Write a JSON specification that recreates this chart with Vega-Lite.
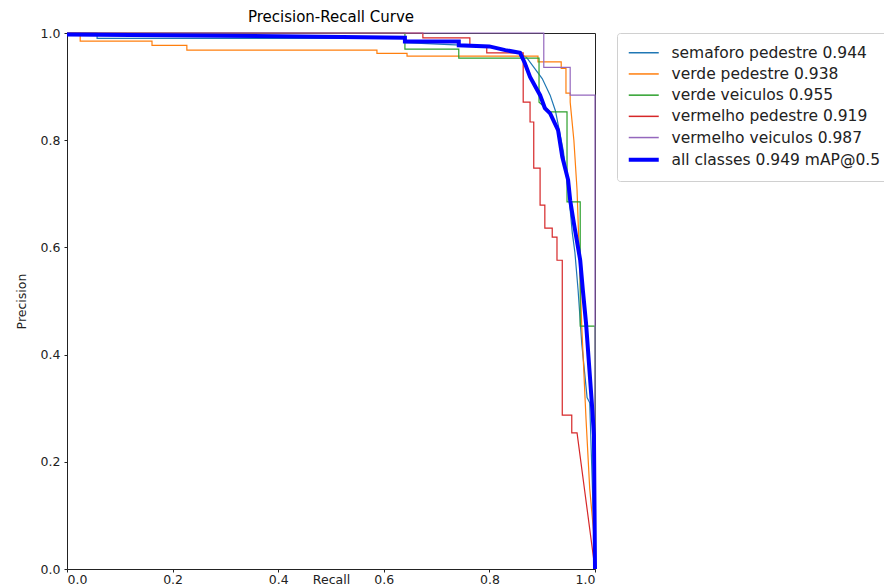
{
  "$schema": "https://vega.github.io/schema/vega-lite/v6.json",
  "autosize": {"type": "none"},
  "padding": {"left": 67, "top": 33, "right": 289, "bottom": 18},
  "width": 528,
  "height": 536,
  "background": "white",
  "title": {"text": "Precision-Recall Curve", "fontSize": 15, "font": "DejaVu Sans", "fontWeight": "normal", "color": "black", "offset": 2},
  "config": {
    "view": {"stroke": "#222", "strokeWidth": 1},
    "font": "DejaVu Sans",
    "axis": {"grid": false, "domain": false, "tickColor": "#222", "tickSize": 3, "labelFontSize": 12.5, "titleFontSize": 12.5, "labelColor": "#222", "titleColor": "#222", "titleFontWeight": "normal", "labelFont": "DejaVu Sans", "titleFont": "DejaVu Sans"}
  },
  "data": {"values": [
    {"c":"semaforo pedestre 0.944","i":0,"r":0,"p":1},
    {"c":"semaforo pedestre 0.944","i":1,"r":0.057,"p":1},
    {"c":"semaforo pedestre 0.944","i":2,"r":0.057,"p":0.99},
    {"c":"semaforo pedestre 0.944","i":3,"r":0.64,"p":0.99},
    {"c":"semaforo pedestre 0.944","i":4,"r":0.64,"p":0.982},
    {"c":"semaforo pedestre 0.944","i":5,"r":0.80,"p":0.975},
    {"c":"semaforo pedestre 0.944","i":6,"r":0.85,"p":0.965},
    {"c":"semaforo pedestre 0.944","i":7,"r":0.87,"p":0.955},
    {"c":"semaforo pedestre 0.944","i":8,"r":0.885,"p":0.935},
    {"c":"semaforo pedestre 0.944","i":9,"r":0.90,"p":0.915},
    {"c":"semaforo pedestre 0.944","i":10,"r":0.915,"p":0.884},
    {"c":"semaforo pedestre 0.944","i":11,"r":0.925,"p":0.855},
    {"c":"semaforo pedestre 0.944","i":12,"r":0.94,"p":0.78},
    {"c":"semaforo pedestre 0.944","i":13,"r":0.95,"p":0.70},
    {"c":"semaforo pedestre 0.944","i":14,"r":0.953,"p":0.67},
    {"c":"semaforo pedestre 0.944","i":15,"r":0.957,"p":0.627},
    {"c":"semaforo pedestre 0.944","i":16,"r":0.962,"p":0.59},
    {"c":"semaforo pedestre 0.944","i":17,"r":0.968,"p":0.52},
    {"c":"semaforo pedestre 0.944","i":18,"r":0.975,"p":0.42},
    {"c":"semaforo pedestre 0.944","i":19,"r":0.985,"p":0.32},
    {"c":"semaforo pedestre 0.944","i":20,"r":0.99,"p":0.31},
    {"c":"semaforo pedestre 0.944","i":21,"r":1.0,"p":0.0},

    {"c":"verde pedestre 0.938","i":0,"r":0,"p":1},
    {"c":"verde pedestre 0.938","i":1,"r":0.025,"p":1},
    {"c":"verde pedestre 0.938","i":2,"r":0.025,"p":0.985},
    {"c":"verde pedestre 0.938","i":3,"r":0.161,"p":0.985},
    {"c":"verde pedestre 0.938","i":4,"r":0.161,"p":0.977},
    {"c":"verde pedestre 0.938","i":5,"r":0.227,"p":0.977},
    {"c":"verde pedestre 0.938","i":6,"r":0.227,"p":0.968},
    {"c":"verde pedestre 0.938","i":7,"r":0.587,"p":0.968},
    {"c":"verde pedestre 0.938","i":8,"r":0.587,"p":0.962},
    {"c":"verde pedestre 0.938","i":9,"r":0.644,"p":0.962},
    {"c":"verde pedestre 0.938","i":10,"r":0.644,"p":0.957},
    {"c":"verde pedestre 0.938","i":11,"r":0.892,"p":0.957},
    {"c":"verde pedestre 0.938","i":12,"r":0.892,"p":0.946},
    {"c":"verde pedestre 0.938","i":13,"r":0.936,"p":0.946},
    {"c":"verde pedestre 0.938","i":14,"r":0.936,"p":0.934},
    {"c":"verde pedestre 0.938","i":15,"r":0.945,"p":0.934},
    {"c":"verde pedestre 0.938","i":16,"r":0.945,"p":0.888},
    {"c":"verde pedestre 0.938","i":17,"r":0.953,"p":0.888},
    {"c":"verde pedestre 0.938","i":18,"r":0.953,"p":0.871},
    {"c":"verde pedestre 0.938","i":19,"r":0.960,"p":0.80},
    {"c":"verde pedestre 0.938","i":20,"r":0.966,"p":0.707},
    {"c":"verde pedestre 0.938","i":21,"r":0.975,"p":0.45},
    {"c":"verde pedestre 0.938","i":22,"r":0.983,"p":0.28},
    {"c":"verde pedestre 0.938","i":23,"r":0.99,"p":0.15},
    {"c":"verde pedestre 0.938","i":24,"r":1.0,"p":0.04},

    {"c":"verde veiculos 0.955","i":0,"r":0,"p":1},
    {"c":"verde veiculos 0.955","i":1,"r":0.64,"p":1},
    {"c":"verde veiculos 0.955","i":2,"r":0.64,"p":0.970},
    {"c":"verde veiculos 0.955","i":3,"r":0.742,"p":0.970},
    {"c":"verde veiculos 0.955","i":4,"r":0.742,"p":0.953},
    {"c":"verde veiculos 0.955","i":5,"r":0.894,"p":0.953},
    {"c":"verde veiculos 0.955","i":6,"r":0.894,"p":0.871},
    {"c":"verde veiculos 0.955","i":7,"r":0.915,"p":0.853},
    {"c":"verde veiculos 0.955","i":8,"r":0.947,"p":0.853},
    {"c":"verde veiculos 0.955","i":9,"r":0.947,"p":0.685},
    {"c":"verde veiculos 0.955","i":10,"r":0.972,"p":0.685},
    {"c":"verde veiculos 0.955","i":11,"r":0.972,"p":0.453},
    {"c":"verde veiculos 0.955","i":12,"r":1.0,"p":0.453},
    {"c":"verde veiculos 0.955","i":13,"r":1.0,"p":0.0},

    {"c":"vermelho pedestre 0.919","i":0,"r":0,"p":1},
    {"c":"vermelho pedestre 0.919","i":1,"r":0.674,"p":1},
    {"c":"vermelho pedestre 0.919","i":2,"r":0.674,"p":0.991},
    {"c":"vermelho pedestre 0.919","i":3,"r":0.763,"p":0.991},
    {"c":"vermelho pedestre 0.919","i":4,"r":0.763,"p":0.976},
    {"c":"vermelho pedestre 0.919","i":5,"r":0.795,"p":0.976},
    {"c":"vermelho pedestre 0.919","i":6,"r":0.795,"p":0.963},
    {"c":"vermelho pedestre 0.919","i":7,"r":0.864,"p":0.963},
    {"c":"vermelho pedestre 0.919","i":8,"r":0.864,"p":0.871},
    {"c":"vermelho pedestre 0.919","i":9,"r":0.877,"p":0.871},
    {"c":"vermelho pedestre 0.919","i":10,"r":0.877,"p":0.834},
    {"c":"vermelho pedestre 0.919","i":11,"r":0.884,"p":0.834},
    {"c":"vermelho pedestre 0.919","i":12,"r":0.884,"p":0.748},
    {"c":"vermelho pedestre 0.919","i":13,"r":0.896,"p":0.748},
    {"c":"vermelho pedestre 0.919","i":14,"r":0.896,"p":0.679},
    {"c":"vermelho pedestre 0.919","i":15,"r":0.905,"p":0.679},
    {"c":"vermelho pedestre 0.919","i":16,"r":0.905,"p":0.636},
    {"c":"vermelho pedestre 0.919","i":17,"r":0.919,"p":0.636},
    {"c":"vermelho pedestre 0.919","i":18,"r":0.919,"p":0.619},
    {"c":"vermelho pedestre 0.919","i":19,"r":0.928,"p":0.619},
    {"c":"vermelho pedestre 0.919","i":20,"r":0.928,"p":0.576},
    {"c":"vermelho pedestre 0.919","i":21,"r":0.938,"p":0.576},
    {"c":"vermelho pedestre 0.919","i":22,"r":0.938,"p":0.287},
    {"c":"vermelho pedestre 0.919","i":23,"r":0.956,"p":0.287},
    {"c":"vermelho pedestre 0.919","i":24,"r":0.956,"p":0.254},
    {"c":"vermelho pedestre 0.919","i":25,"r":0.966,"p":0.254},
    {"c":"vermelho pedestre 0.919","i":26,"r":1.0,"p":0.0},

    {"c":"vermelho veiculos 0.987","i":0,"r":0,"p":1},
    {"c":"vermelho veiculos 0.987","i":1,"r":0.903,"p":1},
    {"c":"vermelho veiculos 0.987","i":2,"r":0.903,"p":0.936},
    {"c":"vermelho veiculos 0.987","i":3,"r":0.953,"p":0.936},
    {"c":"vermelho veiculos 0.987","i":4,"r":0.953,"p":0.884},
    {"c":"vermelho veiculos 0.987","i":5,"r":1.0,"p":0.884},
    {"c":"vermelho veiculos 0.987","i":6,"r":1.0,"p":0.0},

    {"c":"all classes 0.949 mAP@0.5","i":0,"r":0,"p":0.997},
    {"c":"all classes 0.949 mAP@0.5","i":1,"r":0.4,"p":0.994},
    {"c":"all classes 0.949 mAP@0.5","i":2,"r":0.64,"p":0.991},
    {"c":"all classes 0.949 mAP@0.5","i":3,"r":0.64,"p":0.984},
    {"c":"all classes 0.949 mAP@0.5","i":4,"r":0.742,"p":0.984},
    {"c":"all classes 0.949 mAP@0.5","i":5,"r":0.742,"p":0.977},
    {"c":"all classes 0.949 mAP@0.5","i":6,"r":0.80,"p":0.975},
    {"c":"all classes 0.949 mAP@0.5","i":7,"r":0.83,"p":0.968},
    {"c":"all classes 0.949 mAP@0.5","i":8,"r":0.858,"p":0.963},
    {"c":"all classes 0.949 mAP@0.5","i":9,"r":0.867,"p":0.944},
    {"c":"all classes 0.949 mAP@0.5","i":10,"r":0.877,"p":0.918},
    {"c":"all classes 0.949 mAP@0.5","i":11,"r":0.896,"p":0.884},
    {"c":"all classes 0.949 mAP@0.5","i":12,"r":0.905,"p":0.86},
    {"c":"all classes 0.949 mAP@0.5","i":13,"r":0.915,"p":0.85},
    {"c":"all classes 0.949 mAP@0.5","i":14,"r":0.930,"p":0.819},
    {"c":"all classes 0.949 mAP@0.5","i":15,"r":0.938,"p":0.769},
    {"c":"all classes 0.949 mAP@0.5","i":16,"r":0.949,"p":0.726},
    {"c":"all classes 0.949 mAP@0.5","i":17,"r":0.953,"p":0.688},
    {"c":"all classes 0.949 mAP@0.5","i":18,"r":0.96,"p":0.645},
    {"c":"all classes 0.949 mAP@0.5","i":19,"r":0.972,"p":0.576},
    {"c":"all classes 0.949 mAP@0.5","i":20,"r":0.977,"p":0.52},
    {"c":"all classes 0.949 mAP@0.5","i":21,"r":0.983,"p":0.459},
    {"c":"all classes 0.949 mAP@0.5","i":22,"r":0.994,"p":0.31},
    {"c":"all classes 0.949 mAP@0.5","i":23,"r":0.998,"p":0.25},
    {"c":"all classes 0.949 mAP@0.5","i":24,"r":1.0,"p":0.0}
  ]},
  "encoding": {
    "x": {"field": "r", "type": "quantitative", "title": "Recall", "scale": {"domain": [0, 1], "nice": false, "zero": false}, "axis": {"values": [0, 0.2, 0.4, 0.6, 0.8, 1.0], "format": ".1f", "labelPadding": 1, "titleY": 4, "titleBaseline": "top"}},
    "y": {"field": "p", "type": "quantitative", "title": "Precision", "scale": {"domain": [0, 1], "nice": false, "zero": false}, "axis": {"values": [0, 0.2, 0.4, 0.6, 0.8, 1.0], "format": ".1f", "labelPadding": 4, "titlePadding": 12}},
    "order": {"field": "i", "type": "quantitative"},
    "color": {
      "field": "c", "type": "nominal",
      "scale": {
        "domain": ["semaforo pedestre 0.944", "verde pedestre 0.938", "verde veiculos 0.955", "vermelho pedestre 0.919", "vermelho veiculos 0.987", "all classes 0.949 mAP@0.5"],
        "range": ["#1f77b4", "#ff7f0e", "#2ca02c", "#d62728", "#9467bd", "#0000ff"]
      },
      "legend": {
        "title": null,
        "orient": "none",
        "legendX": 550,
        "legendY": 0,
        "padding": 12,
        "strokeColor": "#d0d0d0",
        "fillColor": "white",
        "cornerRadius": 3,
        "symbolType": "stroke",
        "symbolSize": 900,
        "symbolStrokeWidth": 1.5,
        "symbolOffset": 7,
        "labelFontSize": 15.5,
        "labelFont": "DejaVu Sans",
        "labelColor": "#222",
        "labelOffset": 20,
        "rowPadding": 4.2,
        "labelLimit": 400,
        "encode": {"symbols": {"update": {"strokeWidth": {"signal": "datum.value === 'all classes 0.949 mAP@0.5' ? 4 : 1.5"}}}}
      }
    }
  },
  "layer": [
    {
      "transform": [{"filter": "datum.c !== 'all classes 0.949 mAP@0.5'"}],
      "mark": {"type": "line", "strokeWidth": 1.2, "clip": false}
    },
    {
      "transform": [{"filter": "datum.c === 'all classes 0.949 mAP@0.5'"}],
      "mark": {"type": "line", "strokeWidth": 4, "clip": false}
    }
  ]
}
